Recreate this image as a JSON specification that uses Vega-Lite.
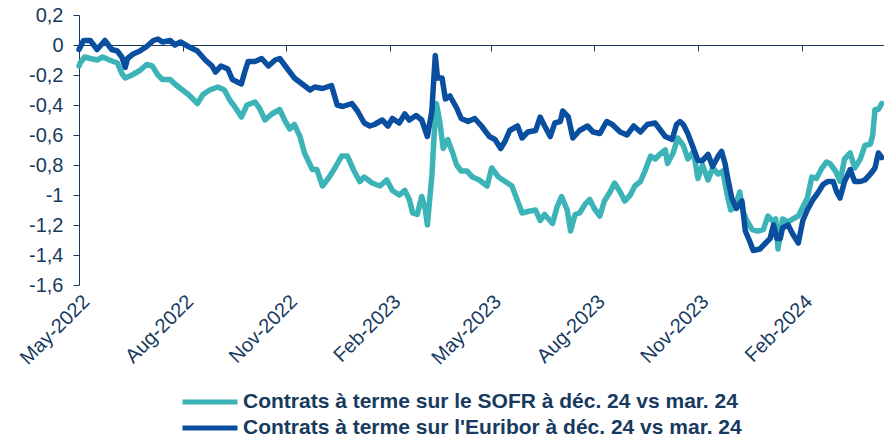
{
"$schema": "https://vega.github.io/schema/vega-lite/v6.json",
"width": 805,
"height": 270,
"autosize": "none",
"padding": {"left": 79, "top": 15, "right": 0, "bottom": 157},
"background": "white",
"config": {"view": {"stroke": null}, "font": "Liberation Sans"},
"datasets": {
"sofr": [
{"d":"2022-05-01","v":-0.14},{"d":"2022-05-02","v":-0.12},{"d":"2022-05-06","v":-0.08},{"d":"2022-05-11","v":-0.09},{"d":"2022-05-17","v":-0.10},{"d":"2022-05-22","v":-0.08},{"d":"2022-05-28","v":-0.10},{"d":"2022-06-04","v":-0.12},{"d":"2022-06-08","v":-0.19},{"d":"2022-06-11","v":-0.22},{"d":"2022-06-17","v":-0.20},{"d":"2022-06-24","v":-0.17},{"d":"2022-06-30","v":-0.13},{"d":"2022-07-05","v":-0.14},{"d":"2022-07-10","v":-0.20},{"d":"2022-07-14","v":-0.23},{"d":"2022-07-21","v":-0.23},{"d":"2022-07-25","v":-0.26},{"d":"2022-07-30","v":-0.29},{"d":"2022-08-06","v":-0.33},{"d":"2022-08-14","v":-0.39},{"d":"2022-08-19","v":-0.33},{"d":"2022-08-25","v":-0.30},{"d":"2022-09-01","v":-0.28},{"d":"2022-09-07","v":-0.30},{"d":"2022-09-12","v":-0.37},{"d":"2022-09-16","v":-0.41},{"d":"2022-09-22","v":-0.48},{"d":"2022-09-27","v":-0.40},{"d":"2022-10-04","v":-0.38},{"d":"2022-10-08","v":-0.42},{"d":"2022-10-13","v":-0.50},{"d":"2022-10-19","v":-0.46},{"d":"2022-10-26","v":-0.43},{"d":"2022-10-31","v":-0.51},{"d":"2022-11-04","v":-0.56},{"d":"2022-11-08","v":-0.53},{"d":"2022-11-13","v":-0.61},{"d":"2022-11-17","v":-0.72},{"d":"2022-11-24","v":-0.83},{"d":"2022-11-28","v":-0.83},{"d":"2022-12-03","v":-0.94},{"d":"2022-12-09","v":-0.88},{"d":"2022-12-14","v":-0.82},{"d":"2022-12-20","v":-0.74},{"d":"2022-12-25","v":-0.74},{"d":"2022-12-31","v":-0.84},{"d":"2023-01-05","v":-0.91},{"d":"2023-01-09","v":-0.88},{"d":"2023-01-16","v":-0.92},{"d":"2023-01-23","v":-0.94},{"d":"2023-01-29","v":-0.90},{"d":"2023-02-03","v":-0.97},{"d":"2023-02-09","v":-1.00},{"d":"2023-02-14","v":-0.97},{"d":"2023-02-18","v":-1.03},{"d":"2023-02-21","v":-1.12},{"d":"2023-02-25","v":-1.13},{"d":"2023-03-01","v":-1.01},{"d":"2023-03-04","v":-1.09},{"d":"2023-03-06","v":-1.20},{"d":"2023-03-10","v":-0.87},{"d":"2023-03-12","v":-0.60},{"d":"2023-03-14","v":-0.39},{"d":"2023-03-17","v":-0.51},{"d":"2023-03-20","v":-0.69},{"d":"2023-03-24","v":-0.63},{"d":"2023-03-28","v":-0.71},{"d":"2023-04-01","v":-0.80},{"d":"2023-04-05","v":-0.84},{"d":"2023-04-10","v":-0.84},{"d":"2023-04-15","v":-0.88},{"d":"2023-04-21","v":-0.90},{"d":"2023-04-28","v":-0.94},{"d":"2023-05-02","v":-0.82},{"d":"2023-05-08","v":-0.88},{"d":"2023-05-14","v":-0.91},{"d":"2023-05-20","v":-0.94},{"d":"2023-05-25","v":-1.04},{"d":"2023-05-29","v":-1.12},{"d":"2023-06-03","v":-1.11},{"d":"2023-06-10","v":-1.10},{"d":"2023-06-14","v":-1.17},{"d":"2023-06-18","v":-1.13},{"d":"2023-06-25","v":-1.19},{"d":"2023-06-29","v":-1.08},{"d":"2023-07-03","v":-1.01},{"d":"2023-07-08","v":-1.10},{"d":"2023-07-11","v":-1.24},{"d":"2023-07-15","v":-1.13},{"d":"2023-07-19","v":-1.12},{"d":"2023-07-24","v":-1.06},{"d":"2023-07-28","v":-1.03},{"d":"2023-08-01","v":-1.09},{"d":"2023-08-06","v":-1.14},{"d":"2023-08-10","v":-1.04},{"d":"2023-08-15","v":-0.98},{"d":"2023-08-19","v":-0.92},{"d":"2023-08-24","v":-0.98},{"d":"2023-08-28","v":-1.04},{"d":"2023-09-02","v":-1.00},{"d":"2023-09-06","v":-0.94},{"d":"2023-09-11","v":-0.91},{"d":"2023-09-15","v":-0.84},{"d":"2023-09-20","v":-0.74},{"d":"2023-09-24","v":-0.76},{"d":"2023-09-28","v":-0.73},{"d":"2023-10-03","v":-0.70},{"d":"2023-10-05","v":-0.79},{"d":"2023-10-10","v":-0.72},{"d":"2023-10-14","v":-0.62},{"d":"2023-10-19","v":-0.67},{"d":"2023-10-23","v":-0.76},{"d":"2023-10-28","v":-0.71},{"d":"2023-11-01","v":-0.89},{"d":"2023-11-05","v":-0.80},{"d":"2023-11-10","v":-0.90},{"d":"2023-11-14","v":-0.82},{"d":"2023-11-19","v":-0.86},{"d":"2023-11-23","v":-0.84},{"d":"2023-11-27","v":-1.00},{"d":"2023-11-30","v":-1.10},{"d":"2023-12-04","v":-1.08},{"d":"2023-12-08","v":-0.98},{"d":"2023-12-11","v":-1.11},{"d":"2023-12-15","v":-1.18},{"d":"2023-12-19","v":-1.23},{"d":"2023-12-24","v":-1.24},{"d":"2023-12-29","v":-1.23},{"d":"2024-01-02","v":-1.14},{"d":"2024-01-07","v":-1.18},{"d":"2024-01-09","v":-1.16},{"d":"2024-01-11","v":-1.36},{"d":"2024-01-15","v":-1.16},{"d":"2024-01-20","v":-1.18},{"d":"2024-01-24","v":-1.16},{"d":"2024-01-29","v":-1.14},{"d":"2024-02-02","v":-1.08},{"d":"2024-02-06","v":-1.02},{"d":"2024-02-10","v":-0.88},{"d":"2024-02-14","v":-0.89},{"d":"2024-02-19","v":-0.82},{"d":"2024-02-23","v":-0.78},{"d":"2024-02-26","v":-0.79},{"d":"2024-03-02","v":-0.84},{"d":"2024-03-06","v":-0.91},{"d":"2024-03-10","v":-0.76},{"d":"2024-03-15","v":-0.72},{"d":"2024-03-19","v":-0.82},{"d":"2024-03-24","v":-0.76},{"d":"2024-03-28","v":-0.67},{"d":"2024-04-02","v":-0.66},{"d":"2024-04-04","v":-0.60},{"d":"2024-04-06","v":-0.43},{"d":"2024-04-09","v":-0.43},{"d":"2024-04-12","v":-0.39}
],
"eur": [
{"d":"2022-05-01","v":-0.03},{"d":"2022-05-05","v":0.03},{"d":"2022-05-11","v":0.03},{"d":"2022-05-17","v":-0.03},{"d":"2022-05-24","v":0.03},{"d":"2022-05-30","v":-0.03},{"d":"2022-06-04","v":-0.04},{"d":"2022-06-08","v":-0.08},{"d":"2022-06-11","v":-0.15},{"d":"2022-06-13","v":-0.09},{"d":"2022-06-18","v":-0.06},{"d":"2022-06-24","v":-0.04},{"d":"2022-06-30","v":-0.01},{"d":"2022-07-06","v":0.03},{"d":"2022-07-10","v":0.04},{"d":"2022-07-14","v":0.02},{"d":"2022-07-21","v":0.03},{"d":"2022-07-25","v":0.00},{"d":"2022-07-30","v":0.02},{"d":"2022-08-06","v":-0.01},{"d":"2022-08-14","v":-0.04},{"d":"2022-08-21","v":-0.10},{"d":"2022-08-27","v":-0.14},{"d":"2022-08-30","v":-0.18},{"d":"2022-09-04","v":-0.14},{"d":"2022-09-10","v":-0.16},{"d":"2022-09-14","v":-0.23},{"d":"2022-09-22","v":-0.26},{"d":"2022-09-25","v":-0.18},{"d":"2022-09-28","v":-0.11},{"d":"2022-10-04","v":-0.11},{"d":"2022-10-10","v":-0.09},{"d":"2022-10-16","v":-0.14},{"d":"2022-10-22","v":-0.10},{"d":"2022-10-26","v":-0.09},{"d":"2022-11-02","v":-0.16},{"d":"2022-11-08","v":-0.22},{"d":"2022-11-15","v":-0.26},{"d":"2022-11-22","v":-0.30},{"d":"2022-11-26","v":-0.28},{"d":"2022-12-03","v":-0.29},{"d":"2022-12-11","v":-0.27},{"d":"2022-12-16","v":-0.40},{"d":"2022-12-21","v":-0.41},{"d":"2022-12-29","v":-0.39},{"d":"2023-01-03","v":-0.44},{"d":"2023-01-09","v":-0.52},{"d":"2023-01-14","v":-0.54},{"d":"2023-01-18","v":-0.53},{"d":"2023-01-25","v":-0.50},{"d":"2023-01-30","v":-0.54},{"d":"2023-02-03","v":-0.49},{"d":"2023-02-09","v":-0.52},{"d":"2023-02-14","v":-0.46},{"d":"2023-02-18","v":-0.50},{"d":"2023-02-24","v":-0.47},{"d":"2023-03-01","v":-0.50},{"d":"2023-03-06","v":-0.61},{"d":"2023-03-10","v":-0.44},{"d":"2023-03-11","v":-0.31},{"d":"2023-03-13","v":-0.07},{"d":"2023-03-15","v":-0.22},{"d":"2023-03-19","v":-0.22},{"d":"2023-03-22","v":-0.36},{"d":"2023-03-26","v":-0.34},{"d":"2023-04-01","v":-0.42},{"d":"2023-04-05","v":-0.49},{"d":"2023-04-11","v":-0.51},{"d":"2023-04-17","v":-0.49},{"d":"2023-04-23","v":-0.54},{"d":"2023-04-30","v":-0.61},{"d":"2023-05-05","v":-0.63},{"d":"2023-05-10","v":-0.69},{"d":"2023-05-14","v":-0.64},{"d":"2023-05-18","v":-0.57},{"d":"2023-05-25","v":-0.54},{"d":"2023-05-29","v":-0.62},{"d":"2023-06-03","v":-0.58},{"d":"2023-06-10","v":-0.57},{"d":"2023-06-14","v":-0.48},{"d":"2023-06-18","v":-0.54},{"d":"2023-06-23","v":-0.61},{"d":"2023-06-27","v":-0.52},{"d":"2023-07-02","v":-0.51},{"d":"2023-07-04","v":-0.44},{"d":"2023-07-09","v":-0.48},{"d":"2023-07-13","v":-0.62},{"d":"2023-07-19","v":-0.57},{"d":"2023-07-26","v":-0.54},{"d":"2023-07-31","v":-0.58},{"d":"2023-08-06","v":-0.59},{"d":"2023-08-12","v":-0.51},{"d":"2023-08-17","v":-0.53},{"d":"2023-08-24","v":-0.58},{"d":"2023-08-30","v":-0.60},{"d":"2023-09-05","v":-0.54},{"d":"2023-09-11","v":-0.58},{"d":"2023-09-17","v":-0.53},{"d":"2023-09-24","v":-0.52},{"d":"2023-09-28","v":-0.56},{"d":"2023-10-03","v":-0.61},{"d":"2023-10-09","v":-0.63},{"d":"2023-10-13","v":-0.53},{"d":"2023-10-16","v":-0.51},{"d":"2023-10-19","v":-0.53},{"d":"2023-10-23","v":-0.59},{"d":"2023-10-28","v":-0.69},{"d":"2023-11-01","v":-0.77},{"d":"2023-11-05","v":-0.77},{"d":"2023-11-10","v":-0.73},{"d":"2023-11-14","v":-0.81},{"d":"2023-11-19","v":-0.74},{"d":"2023-11-22","v":-0.71},{"d":"2023-11-25","v":-0.79},{"d":"2023-11-28","v":-0.91},{"d":"2023-12-01","v":-1.02},{"d":"2023-12-05","v":-1.09},{"d":"2023-12-10","v":-1.04},{"d":"2023-12-13","v":-1.24},{"d":"2023-12-17","v":-1.31},{"d":"2023-12-20","v":-1.37},{"d":"2023-12-26","v":-1.36},{"d":"2023-12-31","v":-1.32},{"d":"2024-01-04","v":-1.29},{"d":"2024-01-07","v":-1.20},{"d":"2024-01-10","v":-1.29},{"d":"2024-01-13","v":-1.29},{"d":"2024-01-15","v":-1.22},{"d":"2024-01-20","v":-1.20},{"d":"2024-01-24","v":-1.26},{"d":"2024-01-29","v":-1.32},{"d":"2024-02-02","v":-1.17},{"d":"2024-02-06","v":-1.10},{"d":"2024-02-11","v":-1.03},{"d":"2024-02-15","v":-0.99},{"d":"2024-02-20","v":-0.93},{"d":"2024-02-24","v":-0.91},{"d":"2024-02-29","v":-0.91},{"d":"2024-03-03","v":-0.98},{"d":"2024-03-06","v":-1.02},{"d":"2024-03-10","v":-0.91},{"d":"2024-03-15","v":-0.83},{"d":"2024-03-19","v":-0.91},{"d":"2024-03-24","v":-0.91},{"d":"2024-03-28","v":-0.90},{"d":"2024-04-02","v":-0.86},{"d":"2024-04-06","v":-0.82},{"d":"2024-04-09","v":-0.72},{"d":"2024-04-12","v":-0.75}
]
},
"encoding": {
"y": {"field": "v", "type": "quantitative",
 "scale": {"domain": [-1.6, 0.2], "nice": false, "zero": false},
 "axis": {"values": [0.2, 0, -0.2, -0.4, -0.6, -0.8, -1, -1.2, -1.4, -1.6],
  "labelExpr": "replace(toString(round(datum.value*10)/10), '.', ',')",
  "labelFontSize": 20, "labelColor": "#173A5E", "labelFont": "Liberation Sans",
  "domainColor": "#173A5E", "domainWidth": 1, "tickColor": "#173A5E", "tickSize": 6,
  "labelPadding": 10, "grid": false, "title": null}}
},
"layer": [
{"data": {"name": "sofr"},
 "mark": {"type": "line", "strokeWidth": 5.5, "strokeJoin": "round", "strokeCap": "round"},
 "encoding": {
  "x": {"field": "d", "type": "temporal",
   "scale": {"type": "utc", "domain": [{"year": 2022, "month": 5, "date": 1, "utc": true}, {"year": 2024, "month": 4, "date": 14, "utc": true}]},
   "axis": {"orient": "bottom", "values": [{"year":2022,"month":5,"date":1,"utc":true},{"year":2022,"month":8,"date":1,"utc":true},{"year":2022,"month":11,"date":1,"utc":true},{"year":2023,"month":2,"date":1,"utc":true},{"year":2023,"month":5,"date":1,"utc":true},{"year":2023,"month":8,"date":1,"utc":true},{"year":2023,"month":11,"date":1,"utc":true},{"year":2024,"month":2,"date":1,"utc":true}],
    "labelExpr": "utcFormat(datum.value, '%b-%Y')", "labelAngle": -45, "labelFontSize": 20, "labelColor": "#173A5E", "labelFont": "Liberation Sans",
    "domain": false, "ticks": false, "grid": false, "title": null, "labelPadding": 6, "labelOverlap": false, "labelBound": false, "labelFlush": false}},
  "color": {"datum": "Contrats à terme sur le SOFR à déc. 24 vs mar. 24",
   "scale": {"domain": ["Contrats à terme sur le SOFR à déc. 24 vs mar. 24", "Contrats à terme sur l'Euribor à déc. 24 vs mar. 24"], "range": ["#3CB4B7", "#0A4F9F"]},
   "legend": {"orient": "none", "legendX": 101, "legendY": 377, "direction": "vertical", "title": null,
    "symbolType": "stroke", "symbolSize": 3025, "symbolStrokeWidth": 5, "clipHeight": 20, "rowPadding": 5,
    "labelFontSize": 21, "labelFontWeight": "bold", "labelColor": "#173A5E", "labelFont": "Liberation Sans", "labelLimit": 0, "labelOffset": 3, "padding": 0}}
 }},
{"data": {"name": "eur"},
 "mark": {"type": "line", "strokeWidth": 5.5, "strokeJoin": "round", "strokeCap": "round"},
 "encoding": {
  "x": {"field": "d", "type": "temporal", "axis": null},
  "color": {"datum": "Contrats à terme sur l'Euribor à déc. 24 vs mar. 24"}
 }},
{"data": {"name": "sofr"},
 "mark": {"type": "point", "opacity": 0},
 "encoding": {
  "x": {"field": "d", "type": "temporal",
   "axis": {"orient": "bottom", "offset": -240, "labels": false, "domain": true, "domainColor": "#173A5E", "domainWidth": 1, "ticks": true, "tickSize": 6, "tickColor": "#173A5E", "grid": false, "title": null,
    "values": [{"year":2022,"month":5,"date":1,"utc":true},{"year":2022,"month":8,"date":1,"utc":true},{"year":2022,"month":11,"date":1,"utc":true},{"year":2023,"month":2,"date":1,"utc":true},{"year":2023,"month":5,"date":1,"utc":true},{"year":2023,"month":8,"date":1,"utc":true},{"year":2023,"month":11,"date":1,"utc":true},{"year":2024,"month":2,"date":1,"utc":true}]}}
 }}
],
"resolve": {"axis": {"x": "independent"}}
}
